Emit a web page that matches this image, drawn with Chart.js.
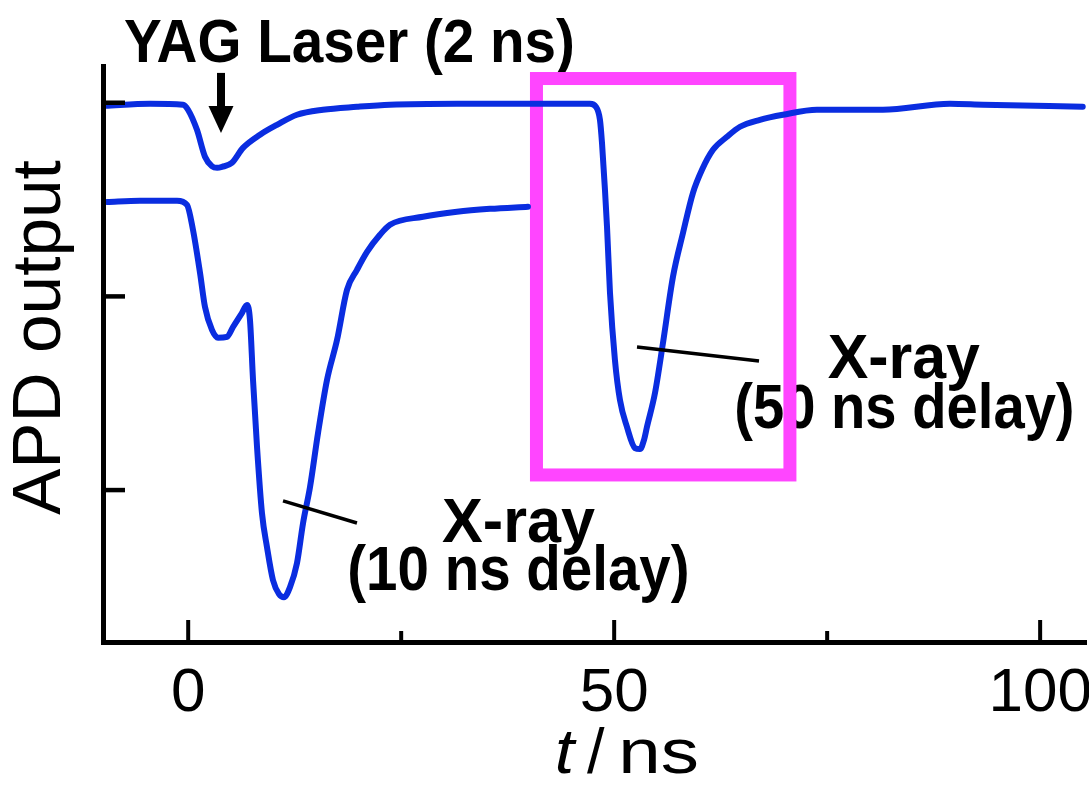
<!DOCTYPE html>
<html>
<head>
<meta charset="utf-8">
<script src="https://cdn.jsdelivr.net/npm/chart.js@4.4.1/dist/chart.umd.min.js"></script>
<style>
  html, body { margin: 0; padding: 0; background: #ffffff; }
  #wrap { position: relative; width: 1089px; height: 785px; }
</style>
</head>
<body>
<div id="wrap"><canvas id="apd" width="1089" height="785"></canvas></div>
<script>
// APD output traces versus time (ns); output in arbitrary units (tick marks at 0, 1, 2)
const delay50Time = [-9.76, -4.48, -0.61, -0.02, 1.03, 1.97, 2.79, 3.40, 3.97, 5.14, 6.43, 8.43, 10.42, 12.77, 15.82,
  19.81, 23.69, 31.55, 40.12, 47.16, 47.86, 48.33, 48.57, 48.92, 49.16, 49.51, 50.09, 50.68, 51.50, 52.44,
  53.03, 53.50, 53.85, 54.79, 55.73, 56.90, 58.08, 59.25, 60.31, 61.60, 63.24, 64.77, 67.11, 69.81, 73.80,
  81.55, 89.41, 93.29, 105.0];
const delay50Output = [1.984, 1.995, 1.990, 1.964, 1.860, 1.721, 1.672, 1.664, 1.669, 1.690, 1.767, 1.835, 1.886, 1.938, 1.964,
  1.979, 1.990, 1.995, 1.995, 1.995, 1.979, 1.912, 1.793, 1.550, 1.359, 1.018, 0.672, 0.465, 0.326, 0.217,
  0.212, 0.258, 0.326, 0.501, 0.760, 1.101, 1.328, 1.535, 1.654, 1.757, 1.824, 1.876, 1.912, 1.938, 1.964,
  1.964, 1.995, 1.990, 1.979];

const delay10Time = [-9.53, -5.66, -1.31, -0.14, 0.56, 1.39, 1.97, 2.79, 3.50, 4.55, 5.26, 6.32, 6.90, 7.25, 7.61,
  8.08, 8.66, 9.25, 9.95, 10.66, 11.24, 11.95, 12.77, 13.48, 14.30, 15.24, 16.29, 17.47, 18.64, 19.81, 20.99,
  22.51, 23.69, 27.56, 31.55, 35.42, 39.88];
const delay10Output = [1.488, 1.494, 1.494, 1.473, 1.344, 1.121, 0.946, 0.827, 0.786, 0.791, 0.842, 0.915, 0.956, 0.879, 0.568,
  0.222, -0.119, -0.295, -0.465, -0.537, -0.553, -0.501, -0.377, -0.171, 0.016, 0.295, 0.568, 0.775, 1.034, 1.137, 1.230,
  1.318, 1.370, 1.411, 1.437, 1.452, 1.463];

const timeTicks = [0, 50, 100];
const timeMinorTicks = [25, 75];
const outputTicks = [0, 1, 2];

const TRACE_COLOR = '#0a2de0';
const BOX_COLOR = '#ff45ff';
const FONT = "'Liberation Sans', Arial, Helvetica, sans-serif";

// Annotation layout, in axis units
const notes = [
  { text: 'YAG Laser (2 ns)', x0: -7.42, x1: 45.14, y: 2.21, size: 61 },
  { text: 'X-ray', x0: 75.07, x1: 92.93, y: 0.579, size: 63 },
  { text: '(50 ns delay)', x0: 64.41, x1: 103.73, y: 0.321, size: 63 },
  { text: 'X-ray', x0: 29.79, x1: 47.75, y: -0.268, size: 63 },
  { text: '(10 ns delay)', x0: 18.99, x1: 58.54, y: -0.516, size: 63 }
];
const pointers = [
  { from: [52.68, 0.739], to: [67.0, 0.666] },
  { from: [11.13, -0.056], to: [19.81, -0.170] }
];
const laserArrow = { x: 3.85, top: 2.154, headBase: 1.983, tip: 1.844 };
const highlight = { x0: 40.88, x1: 70.63, y0: 2.125, y1: 0.078 };

// Draws a string so that its glyphs span exactly x0..x1 on the given baseline
function fitText(ctx, str, x0, x1, base, font) {
  ctx.save();
  ctx.font = font;
  ctx.textAlign = 'left';
  ctx.textBaseline = 'alphabetic';
  ctx.fillStyle = '#000';
  const m = ctx.measureText(str);
  const w = m.actualBoundingBoxLeft + m.actualBoundingBoxRight;
  ctx.translate(x0, base);
  ctx.scale((x1 - x0) / w, 1);
  ctx.fillText(str, m.actualBoundingBoxLeft, 0);
  ctx.restore();
}

const decor = {
  id: 'decor',
  beforeDatasetsDraw(chart) {
    const { ctx, scales: { x: xs, y: ys } } = chart;
    notes.forEach(n => {
      fitText(ctx, n.text, xs.getPixelForValue(n.x0), xs.getPixelForValue(n.x1),
        ys.getPixelForValue(n.y), `bold ${n.size}px ${FONT}`);
    });
    ctx.save();
    ctx.strokeStyle = BOX_COLOR;
    ctx.lineWidth = 13;
    ctx.lineJoin = 'miter';
    const bx0 = xs.getPixelForValue(highlight.x0), bx1 = xs.getPixelForValue(highlight.x1);
    const by0 = ys.getPixelForValue(highlight.y0), by1 = ys.getPixelForValue(highlight.y1);
    ctx.strokeRect(bx0, by0, bx1 - bx0, by1 - by0);
    ctx.restore();
  },
  afterDatasetsDraw(chart) {
    const { ctx, chartArea: a, scales: { x: xs, y: ys } } = chart;
    ctx.save();
    ctx.strokeStyle = '#000';
    ctx.fillStyle = '#000';

    // leader lines
    ctx.lineWidth = 3.5;
    ctx.lineCap = 'butt';
    pointers.forEach(p => {
      ctx.beginPath();
      ctx.moveTo(xs.getPixelForValue(p.from[0]), ys.getPixelForValue(p.from[1]));
      ctx.lineTo(xs.getPixelForValue(p.to[0]), ys.getPixelForValue(p.to[1]));
      ctx.stroke();
    });

    // laser arrow
    const ax = xs.getPixelForValue(laserArrow.x);
    const aTop = ys.getPixelForValue(laserArrow.top);
    const aBase = ys.getPixelForValue(laserArrow.headBase);
    const aTip = ys.getPixelForValue(laserArrow.tip);
    ctx.lineWidth = 8;
    ctx.beginPath();
    ctx.moveTo(ax, aTop);
    ctx.lineTo(ax, aBase + 2);
    ctx.stroke();
    ctx.beginPath();
    ctx.moveTo(ax - 12.5, aBase);
    ctx.lineTo(ax + 12.5, aBase);
    ctx.lineTo(ax, aTip);
    ctx.closePath();
    ctx.fill();

    // axis frame
    ctx.lineWidth = 5;
    ctx.lineJoin = 'miter';
    ctx.beginPath();
    ctx.moveTo(a.left + 0.5, a.top);
    ctx.lineTo(a.left + 0.5, a.bottom - 2.5);
    ctx.lineTo(a.right, a.bottom - 2.5);
    ctx.stroke();

    // inward tick marks
    ctx.lineWidth = 4.5;
    outputTicks.forEach(v => {
      const y = ys.getPixelForValue(v);
      ctx.beginPath();
      ctx.moveTo(a.left, y);
      ctx.lineTo(a.left + 22, y);
      ctx.stroke();
    });
    ctx.lineWidth = 4;
    timeTicks.forEach(v => {
      const x = xs.getPixelForValue(v);
      ctx.beginPath();
      ctx.moveTo(x, a.bottom - 2.5);
      ctx.lineTo(x, a.bottom - 25);
      ctx.stroke();
    });
    timeMinorTicks.forEach(v => {
      const x = xs.getPixelForValue(v);
      ctx.beginPath();
      ctx.moveTo(x, a.bottom - 2.5);
      ctx.lineTo(x, a.bottom - 14);
      ctx.stroke();
    });

    // axis titles
    ctx.save();
    ctx.translate(60, 515);
    ctx.rotate(-Math.PI / 2);
    fitText(ctx, 'APD output', 0, 355, 0, `68px ${FONT}`);
    ctx.restore();
    fitText(ctx, 't', 557, 577, 773, `italic 63px ${FONT}`);
    fitText(ctx, '/', 587, 605, 773, `63px ${FONT}`);
    fitText(ctx, 'ns', 623, 697, 773, `63px ${FONT}`);
    ctx.restore();
  }
};

const toPoints = (xs, ys) => xs.map((x, i) => ({ x, y: ys[i] }));
const traceStyle = {
  showLine: true,
  borderColor: TRACE_COLOR,
  backgroundColor: TRACE_COLOR,
  borderWidth: 6,
  pointRadius: 0,
  pointHoverRadius: 0,
  cubicInterpolationMode: 'monotone',
  borderJoinStyle: 'round',
  borderCapStyle: 'round',
  fill: false
};

new Chart(document.getElementById('apd'), {
  type: 'scatter',
  data: {
    datasets: [
      Object.assign({ label: 'X-ray (50 ns delay)', data: toPoints(delay50Time, delay50Output) }, traceStyle),
      Object.assign({ label: 'X-ray (10 ns delay)', data: toPoints(delay10Time, delay10Output) }, traceStyle)
    ]
  },
  options: {
    responsive: false,
    animation: false,
    devicePixelRatio: 1,
    layout: { padding: { top: 64, right: 2, left: 0, bottom: 0 } },
    plugins: { legend: { display: false }, tooltip: { enabled: false } },
    scales: {
      x: {
        type: 'linear',
        min: -10,
        max: 105.5,
        grid: { display: false },
        border: { display: false },
        afterBuildTicks: s => { s.ticks = timeTicks.map(v => ({ value: v })); },
        ticks: {
          font: { family: FONT, size: 62 },
          color: '#000',
          padding: 4,
          maxRotation: 0,
          autoSkip: false
        },
        afterFit: s => { s.height = 140; s.paddingLeft = 0; s.paddingRight = 0; }
      },
      y: {
        type: 'linear',
        min: -0.8,
        max: 2.2,
        grid: { display: false },
        border: { display: false },
        ticks: { display: false },
        afterBuildTicks: s => { s.ticks = outputTicks.map(v => ({ value: v })); },
        afterFit: s => { s.width = 103; s.paddingTop = 0; s.paddingBottom = 0; }
      }
    }
  },
  plugins: [decor]
});
</script>
</body>
</html>
